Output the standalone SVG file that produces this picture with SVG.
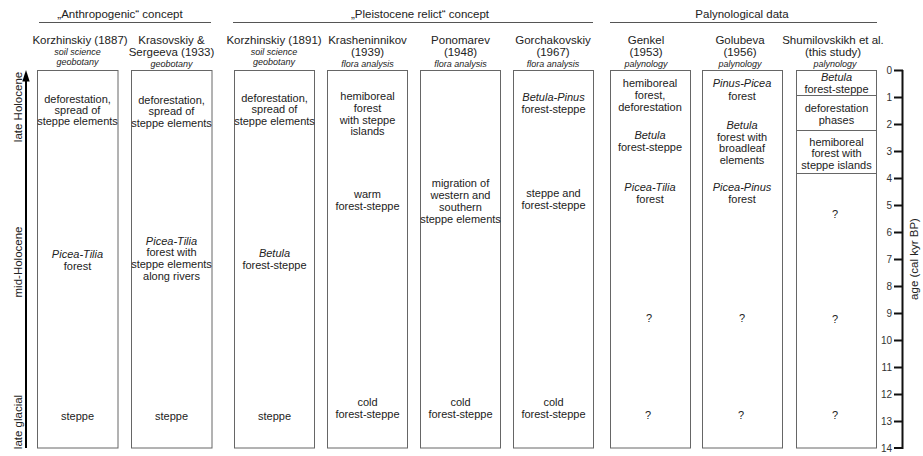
<svg xmlns="http://www.w3.org/2000/svg" width="923" height="456" viewBox="0 0 923 456">
<style>
text{font-family:"Liberation Sans",Arial,sans-serif;fill:#222;}
.grp{font-size:11.5px;text-anchor:middle;}
.hd{font-size:11.5px;text-anchor:middle;}
.sub{font-size:9px;font-style:italic;text-anchor:middle;}
.t{font-size:11px;text-anchor:middle;}
.i{font-style:italic;}
.box{fill:#fff;stroke:#666;stroke-width:1;}
.gl{stroke:#555;stroke-width:1;fill:none;}
.div{stroke:#666;stroke-width:1;}
.tick{stroke:#111;stroke-width:2;}
.tl{font-size:10px;text-anchor:end;fill:#333;}
.per{font-size:11.5px;text-anchor:middle;}
</style>

<g id="groups">
<text class="grp" x="120" y="18">„Anthropogenic“ concept</text>
<line class="gl" x1="39" y1="22.5" x2="211" y2="22.5"/>
<text class="grp" x="420" y="18">„Pleistocene relict“ concept</text>
<line class="gl" x1="233" y1="22.5" x2="593" y2="22.5"/>
<text class="grp" x="742" y="18">Palynological data</text>
<line class="gl" x1="610" y1="22.5" x2="877" y2="22.5"/>
</g>

<g id="col1">
<text class="hd" x="80" y="44">Korzhinskiy (1887)</text>
<text class="sub" x="77.5" y="55">soil science</text>
<text class="sub" x="77.5" y="65">geobotany</text>
<rect class="box" x="37.5" y="70.5" width="80.5" height="377.5"/>
<text class="t" x="77.5" y="103">deforestation,</text>
<text class="t" x="77.5" y="114">spread of</text>
<text class="t" x="77.5" y="125">steppe elements</text>
<text class="t i" x="77.5" y="258">Picea-Tilia</text>
<text class="t" x="77.5" y="269.5">forest</text>
<text class="t" x="77.5" y="420">steppe</text>
</g>

<g id="col2">
<text class="hd" x="171.5" y="44">Krasovskiy &amp;</text>
<text class="hd" x="171.5" y="56">Sergeeva (1933)</text>
<text class="sub" x="171.5" y="66.5">geobotany</text>
<rect class="box" x="131.5" y="70.5" width="80.5" height="377.5"/>
<text class="t" x="171.5" y="104">deforestation,</text>
<text class="t" x="171.5" y="115">spread of</text>
<text class="t" x="171.5" y="126.5">steppe elements</text>
<text class="t i" x="171.5" y="244.5">Picea-Tilia</text>
<text class="t" x="171.5" y="256">forest with</text>
<text class="t" x="171.5" y="268">steppe elements</text>
<text class="t" x="171.5" y="280">along rivers</text>
<text class="t" x="171.5" y="420">steppe</text>
</g>

<g id="col3">
<text class="hd" x="274" y="44">Korzhinskiy (1891)</text>
<text class="sub" x="274" y="55">soil science</text>
<text class="sub" x="274" y="65">geobotany</text>
<rect class="box" x="234.5" y="70.5" width="80" height="377.5"/>
<text class="t" x="274.5" y="102">deforestation,</text>
<text class="t" x="274.5" y="113">spread of</text>
<text class="t" x="274.5" y="124.5">steppe elements</text>
<text class="t i" x="274.5" y="257">Betula</text>
<text class="t" x="274.5" y="269">forest-steppe</text>
<text class="t" x="274.5" y="420">steppe</text>
</g>

<g id="col4">
<text class="hd" x="367.5" y="44">Krasheninnikov</text>
<text class="hd" x="367.5" y="56">(1939)</text>
<text class="sub" x="367.5" y="66.5">flora analysis</text>
<rect class="box" x="327.5" y="70.5" width="80" height="377.5"/>
<text class="t" x="367.5" y="100">hemiboreal</text>
<text class="t" x="367.5" y="112">forest</text>
<text class="t" x="367.5" y="123.5">with steppe</text>
<text class="t" x="367.5" y="135">islands</text>
<text class="t" x="367.5" y="198">warm</text>
<text class="t" x="367.5" y="210">forest-steppe</text>
<text class="t" x="367.5" y="405.5">cold</text>
<text class="t" x="367.5" y="417.5">forest-steppe</text>
</g>

<g id="col5">
<text class="hd" x="460.5" y="44">Ponomarev</text>
<text class="hd" x="460.5" y="56">(1948)</text>
<text class="sub" x="460.5" y="66.5">flora analysis</text>
<rect class="box" x="420.5" y="70.5" width="80" height="377.5"/>
<text class="t" x="460.5" y="187">migration of</text>
<text class="t" x="460.5" y="199">western and</text>
<text class="t" x="460.5" y="210.5">southern</text>
<text class="t" x="460.5" y="222.5">steppe elements</text>
<text class="t" x="460.5" y="405.5">cold</text>
<text class="t" x="460.5" y="417.5">forest-steppe</text>
</g>

<g id="col6">
<text class="hd" x="553" y="44">Gorchakovskiy</text>
<text class="hd" x="553" y="56">(1967)</text>
<text class="sub" x="553" y="66.5">flora analysis</text>
<rect class="box" x="513.5" y="70.5" width="80" height="377.5"/>
<text class="t i" x="553.5" y="101">Betula-Pinus</text>
<text class="t" x="553.5" y="113">forest-steppe</text>
<text class="t" x="553.5" y="197">steppe and</text>
<text class="t" x="553.5" y="209">forest-steppe</text>
<text class="t" x="553.5" y="405.5">cold</text>
<text class="t" x="553.5" y="417.5">forest-steppe</text>
</g>

<g id="col7">
<text class="hd" x="646" y="44">Genkel</text>
<text class="hd" x="646" y="56">(1953)</text>
<text class="sub" x="646" y="66.5">palynology</text>
<rect class="box" x="610.5" y="70.5" width="80" height="377.5"/>
<text class="t" x="650" y="87">hemiboreal</text>
<text class="t" x="650" y="99">forest,</text>
<text class="t" x="650" y="111">deforestation</text>
<text class="t i" x="650" y="139">Betula</text>
<text class="t" x="650" y="150.5">forest-steppe</text>
<text class="t i" x="650" y="190.5">Picea-Tilia</text>
<text class="t" x="650" y="203">forest</text>
<text class="t" x="649" y="322">?</text>
<text class="t" x="648" y="419">?</text>
</g>

<g id="col8">
<text class="hd" x="740" y="44">Golubeva</text>
<text class="hd" x="740" y="56">(1956)</text>
<text class="sub" x="740" y="66.5">palynology</text>
<rect class="box" x="702.5" y="70.5" width="80" height="377.5"/>
<text class="t i" x="742" y="87">Pinus-Picea</text>
<text class="t" x="742" y="99.5">forest</text>
<text class="t i" x="742" y="129">Betula</text>
<text class="t" x="742" y="140.5">forest with</text>
<text class="t" x="742" y="152">broadleaf</text>
<text class="t" x="742" y="164">elements</text>
<text class="t i" x="742" y="190.5">Picea-Pinus</text>
<text class="t" x="742" y="203">forest</text>
<text class="t" x="742" y="322">?</text>
<text class="t" x="741" y="419">?</text>
</g>

<g id="col9">
<text class="hd" x="833" y="44">Shumilovskikh et al.</text>
<text class="hd" x="833" y="56">(this study)</text>
<text class="sub" x="835" y="66.5">palynology</text>
<rect class="box" x="796.5" y="70.5" width="80" height="377.5"/>
<line class="div" x1="796.5" y1="95.5" x2="876.5" y2="95.5"/>
<line class="div" x1="796.5" y1="130.5" x2="876.5" y2="130.5"/>
<line class="div" x1="796.5" y1="173.5" x2="876.5" y2="173.5"/>
<text class="t i" x="836.5" y="81">Betula</text>
<text class="t" x="836.5" y="93">forest-steppe</text>
<text class="t" x="836.5" y="112">deforestation</text>
<text class="t" x="836.5" y="124">phases</text>
<text class="t" x="836.5" y="145.5">hemiboreal</text>
<text class="t" x="836.5" y="157">forest with</text>
<text class="t" x="836.5" y="169">steppe islands</text>
<text class="t" x="835" y="218">?</text>
<text class="t" x="835" y="323">?</text>
<text class="t" x="835" y="419">?</text>
</g>

<g id="period-axis">
<line x1="26" y1="448" x2="26" y2="79" stroke="#000" stroke-width="2"/>
<polygon points="26,70 22.3,81.5 29.7,81.5" fill="#000"/>
<text class="per" transform="translate(21.5,107) rotate(-90)">late Holocene</text>
<text class="per" transform="translate(21.5,262) rotate(-90)">mid-Holocene</text>
<text class="per" transform="translate(21.5,422) rotate(-90)">late glacial</text>
</g>

<g id="age-axis">
<line x1="902.5" y1="70" x2="902.5" y2="449" stroke="#111" stroke-width="2"/>
<g class="tick">
<line x1="894" y1="70.5" x2="903" y2="70.5"/>
<line x1="894" y1="97.5" x2="903" y2="97.5"/>
<line x1="894" y1="124.5" x2="903" y2="124.5"/>
<line x1="894" y1="151.5" x2="903" y2="151.5"/>
<line x1="894" y1="178.5" x2="903" y2="178.5"/>
<line x1="894" y1="205.5" x2="903" y2="205.5"/>
<line x1="894" y1="232.5" x2="903" y2="232.5"/>
<line x1="894" y1="259.5" x2="903" y2="259.5"/>
<line x1="894" y1="286.5" x2="903" y2="286.5"/>
<line x1="894" y1="313.5" x2="903" y2="313.5"/>
<line x1="894" y1="340.5" x2="903" y2="340.5"/>
<line x1="894" y1="367.5" x2="903" y2="367.5"/>
<line x1="894" y1="394.5" x2="903" y2="394.5"/>
<line x1="894" y1="421.5" x2="903" y2="421.5"/>
<line x1="894" y1="448" x2="903" y2="448"/>
</g>
<text class="tl" x="892" y="74">0</text>
<text class="tl" x="892" y="101">1</text>
<text class="tl" x="892" y="128">2</text>
<text class="tl" x="892" y="155">3</text>
<text class="tl" x="892" y="182">4</text>
<text class="tl" x="892" y="209">5</text>
<text class="tl" x="892" y="236">6</text>
<text class="tl" x="892" y="263">7</text>
<text class="tl" x="892" y="290">8</text>
<text class="tl" x="892" y="317">9</text>
<text class="tl" x="892" y="344">10</text>
<text class="tl" x="892" y="371">11</text>
<text class="tl" x="892" y="398">12</text>
<text class="tl" x="892" y="425">13</text>
<text class="tl" x="892" y="452">14</text>
<text class="per" transform="translate(918,259) rotate(-90)">age (cal kyr BP)</text>
</g>
</svg>
